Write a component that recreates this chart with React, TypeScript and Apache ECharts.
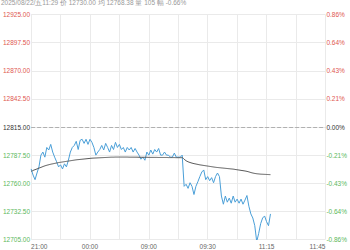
import { useEffect, useRef } from "react";
import * as echarts from "echarts";

const headerText = "2025/08/22/五11:29 价 12730.00 均 12768.38 量 105 幅 -0.66%";
const prevClose = 12815;
const yMin = 12705;
const yMax = 12925;
const yStep = 27.5;
const tickLabels = ["21:00", "00:00", "09:00", "09:30", "11:15", "11:45"];
const slotCount = 151;
const labelEvery = 30;
const gridEvery = 15;

const prices = [
  12774, 12768, 12763.5, 12770, 12776, 12787.5, 12790.5, 12785.5, 12795, 12792.5,
  12798, 12790.5, 12785.5, 12781, 12776, 12778, 12774, 12779, 12776, 12782.5,
  12790.5, 12795, 12797, 12801, 12793, 12802, 12803, 12799, 12803, 12798,
  12803, 12800, 12795, 12787.5, 12790.5, 12793, 12797, 12792.5, 12799, 12795,
  12790.5, 12797, 12793, 12800, 12795, 12798, 12793, 12795, 12790.5, 12795,
  12792.5, 12795, 12790.5, 12794, 12790.5, 12787.5, 12783.5, 12785.5, 12782.5, 12790.5,
  12787.5, 12792.5, 12788.5, 12793, 12790.5, 12794, 12787.5, 12787.5, 12790.5, 12787.5,
  12787.5, 12785.5, 12785.5, 12789.5, 12785.5, 12785.5, 12785.5, 12787.5, 12757, 12759,
  12755, 12760.5, 12757, 12749, 12757, 12761.5, 12766.5, 12771, 12773, 12763.5,
  12766.5, 12762.5, 12765.5, 12760.5, 12766.5, 12770, 12766.5, 12747.5, 12739.5, 12747.5,
  12741.5, 12745.5, 12740.5, 12747.5, 12741.5, 12744.5, 12740.5, 12744.5, 12739.5, 12743.5,
  12748, 12737.5, 12730, 12726, 12718.5, 12703, 12711, 12720.5, 12726, 12728,
  12722.5, 12718.5, 12730,
];

const averages = [
  12771.5, 12772.5, 12773.3, 12774, 12774.8, 12775.5, 12776.3, 12777, 12777.6, 12778.1,
  12778.6, 12779, 12779.4, 12779.8, 12780.2, 12780.5, 12780.8, 12781.1, 12781.4, 12781.7,
  12782, 12782.3, 12782.6,
  12782.9, 12783.1, 12783.3, 12783.5, 12783.7, 12783.9, 12784.1, 12784.3, 12784.5, 12784.6,
  12784.7, 12784.8, 12784.9, 12785, 12785.1, 12785.2, 12785.3, 12785.4, 12785.5, 12785.5,
  12785.6, 12785.6,
  12785.6, 12785.6, 12785.6, 12785.6, 12785.6, 12785.5, 12785.5, 12785.5, 12785.5, 12785.5,
  12785.4, 12785.4, 12785.4, 12785.4, 12785.4, 12785.3, 12785.3, 12785.3, 12785.3, 12785.3,
  12785.2, 12785.2, 12785.2, 12785.2, 12785.2, 12785.1, 12785.1, 12785.1, 12785.1, 12785,
  12785, 12785, 12785,
  12783.5, 12782, 12781, 12780.3, 12779.7, 12779.2, 12778.8, 12778.4, 12778, 12777.7,
  12777.4, 12777.1, 12776.8, 12776.5, 12776.2, 12775.9, 12775.6, 12775.4, 12775.2, 12775,
  12774.8, 12774.6, 12774.4, 12774.2, 12774, 12773.8, 12773.5, 12773.2, 12772.9, 12772.6,
  12772.3, 12772, 12771.6, 12771.1, 12770.5, 12770,
  12769.6, 12769.3, 12769.1, 12768.9, 12768.8, 12768.7, 12768.6, 12768.5, 12768.4,
];

const FONT = 'Arial, "Liberation Sans", sans-serif';
const RED = "#e0574f";
const GREEN = "#5cb85c";

export default function App() {
  const ref = useRef<HTMLDivElement>(null);
  useEffect(() => {
    if (!ref.current) return;
    const chart = echarts.init(ref.current, undefined, { renderer: "svg" });
    const slots = Array.from({ length: slotCount }, (_, i) => String(i));
    const priceColor = (v: number) =>
      Math.abs(v - prevClose) < 1e-6 ? "#333" : v > prevClose ? RED : GREEN;
    chart.setOption({
      animation: false,
      graphic: [
        {
          type: "text",
          left: 1,
          top: -1,
          style: { text: headerText, fill: "#999", font: `6.5px ${FONT}` },
        },
      ],
      grid: { left: 28, right: 22, top: 14.5, bottom: 5.5, containLabel: false },
      xAxis: {
        type: "category",
        data: slots,
        boundaryGap: false,
        axisLine: { show: false },
        axisTick: { show: false },
        axisLabel: {
          interval: (i: number) => i % labelEvery === 0,
          formatter: (_v: string, i: number) => tickLabels[i / labelEvery] ?? "",
          fontSize: 6.5,
          fontFamily: FONT,
          color: "#666",
          margin: 3.5,
          alignMinLabel: "left",
          alignMaxLabel: "right",
        },
        splitLine: {
          show: true,
          interval: (i: number) => i % gridEvery === 0,
          lineStyle: { color: "#eaeaea", width: 1 },
        },
      },
      yAxis: [
        {
          type: "value",
          min: yMin,
          max: yMax,
          interval: yStep,
          position: "left",
          axisLine: { show: false },
          axisTick: { show: false },
          axisLabel: {
            fontSize: 6.5,
            fontFamily: FONT,
            margin: 1,
            formatter: (v: number) => v.toFixed(2),
            color: (v: any) => priceColor(Number(v)),
          },
          splitLine: { show: true, lineStyle: { color: "#eaeaea", width: 1 } },
        },
        {
          type: "value",
          min: yMin,
          max: yMax,
          interval: yStep,
          position: "right",
          axisLine: { show: false },
          axisTick: { show: false },
          axisLabel: {
            fontSize: 6.5,
            fontFamily: FONT,
            margin: 1,
            formatter: (v: number) => (((v - prevClose) / prevClose) * 100).toFixed(2) + "%",
            color: (v: any) => priceColor(Number(v)),
          },
          splitLine: { show: false },
        },
      ],
      series: [
        {
          type: "line",
          data: prices,
          yAxisIndex: 0,
          showSymbol: false,
          lineStyle: { color: "#4a9fd8", width: 1 },
          itemStyle: { color: "#4a9fd8" },
          markLine: {
            silent: true,
            symbol: "none",
            label: { show: false },
            lineStyle: { color: "#b0b0b0", type: "dashed", width: 1 },
            data: [{ yAxis: prevClose }],
          },
        },
        {
          type: "line",
          data: averages,
          yAxisIndex: 0,
          showSymbol: false,
          smooth: true,
          lineStyle: { color: "#555555", width: 1 },
          itemStyle: { color: "#555555" },
        },
      ],
    });
    return () => chart.dispose();
  }, []);
  return <div ref={ref} style={{ width: 350, height: 250, position: "absolute", left: 0, top: 0 }} />;
}
